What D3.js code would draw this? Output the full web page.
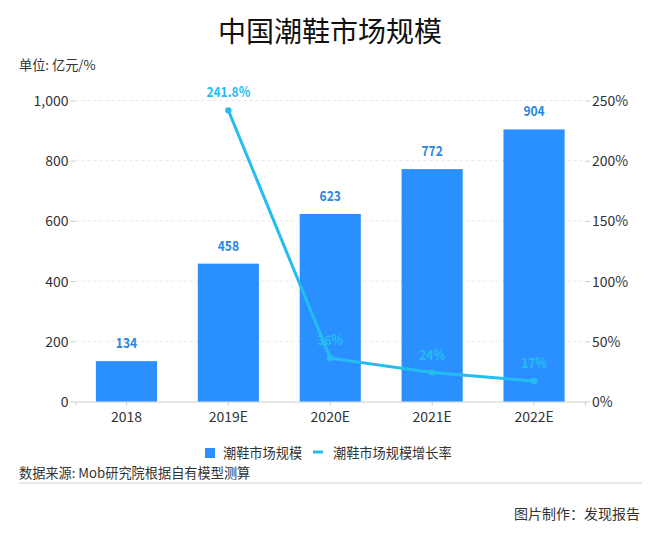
<!DOCTYPE html>
<html>
<head>
<meta charset="utf-8">
<script src="https://cdn.jsdelivr.net/npm/d3@7"></script>
<style>
  body { margin: 0; background: #fff; }
  svg { display: block; font-family: "Noto Sans CJK SC", "Noto Sans", sans-serif; }
</style>
</head>
<body>
<div id="chart"></div>
<script>
// Chart data
const years = ['2018', '2019E', '2020E', '2021E', '2022E'];
const marketSize = [134, 458, 623, 772, 904];
const growthYears = ['2019E', '2020E', '2021E', '2022E'];
const growthRate = [241.8, 36, 24, 17];
const growthLabels = ['241.8%', '36%', '24%', '17%'];
const leftTicks = [0, 200, 400, 600, 800, 1000];
const rightTicks = [0, 50, 100, 150, 200, 250];

const width = 660;
const height = 543;
const barColor = '#2a90ff';
const lineColor = '#25bdf0';
const textColor = '#333';

const svg = d3.select('#chart')
  .append('svg')
  .attr('width', width)
  .attr('height', height);

// Squeeze the value labels, the original uses a condensed face
function condense(selection) {
  selection
    .attr('textLength', function() { return this.getComputedTextLength() * 0.86; })
    .attr('lengthAdjust', 'spacingAndGlyphs');
}

// Scales
const x = d3.scaleBand().domain(years).range([75.5, 585]).paddingInner(0.4).paddingOuter(0.2);
const yLeft = d3.scaleLinear().domain([0, 1000]).range([401.5, 100.5]);
const yRight = d3.scaleLinear().domain([0, 250]).range([401.5, 100.5]);

// Title and notes
svg.append('text')
  .attr('x', 330).attr('y', 42)
  .attr('text-anchor', 'middle')
  .attr('font-size', 28)
  .attr('fill', '#111')
  .text('中国潮鞋市场规模');

svg.append('text')
  .attr('x', 19).attr('y', 70)
  .attr('font-size', 13.2)
  .attr('fill', textColor)
  .text('单位: 亿元/%');

// Gridlines
svg.append('g')
  .selectAll('line')
  .data(leftTicks.slice(1))
  .enter().append('line')
  .attr('x1', 75.5)
  .attr('x2', 585)
  .attr('y1', d => yLeft(d))
  .attr('y2', d => yLeft(d))
  .attr('stroke', '#e6e6e6')
  .attr('stroke-dasharray', '3,3');

// Axes
const leftAxis = svg.append('g')
  .attr('transform', 'translate(75.5,0)')
  .call(d3.axisLeft(yLeft).tickValues(leftTicks).tickFormat(d3.format(',')).tickSize(5).tickPadding(2));

const rightAxis = svg.append('g')
  .attr('transform', 'translate(585,0)')
  .call(d3.axisRight(yRight).tickValues(rightTicks).tickFormat(d => d + '%').tickSize(5).tickPadding(2));

const bottomAxis = svg.append('g')
  .attr('transform', 'translate(0,401.5)')
  .call(d3.axisBottom(x).tickSize(4).tickPadding(7));

[leftAxis, rightAxis].forEach(axis => {
  axis.select('.domain').remove();
  axis.selectAll('.tick line').attr('stroke', '#ccc');
  axis.selectAll('text').attr('dy', '0.36em');
});
bottomAxis.select('.domain').attr('stroke', '#ccc');
bottomAxis.selectAll('.tick line').attr('stroke', '#ccc');

[leftAxis, rightAxis, bottomAxis].forEach(axis => {
  axis.attr('font-family', null);
  axis.selectAll('text')
    .attr('font-size', 14)
    .attr('fill', textColor);
});

// Bars
svg.append('g')
  .selectAll('rect')
  .data(marketSize)
  .enter().append('rect')
  .attr('x', (d, i) => x(years[i]))
  .attr('y', d => yLeft(d))
  .attr('width', x.bandwidth())
  .attr('height', d => yLeft(0) - yLeft(d))
  .attr('fill', barColor);

// Bar labels
svg.append('g')
  .selectAll('text')
  .data(marketSize)
  .enter().append('text')
  .attr('x', (d, i) => x(years[i]) + x.bandwidth() / 2)
  .attr('y', d => yLeft(d) - 13)
  .attr('text-anchor', 'middle')
  .attr('font-size', 14)
  .attr('font-weight', 'bold')
  .attr('fill', '#2a86e0')
  .text(d => d)
  .call(condense);

// Growth line
const lineX = (d, i) => x(growthYears[i]) + x.bandwidth() / 2;
const line = d3.line().x(lineX).y(d => yRight(d));

svg.append('path')
  .datum(growthRate)
  .attr('d', line)
  .attr('fill', 'none')
  .attr('stroke', lineColor)
  .attr('stroke-width', 3);

svg.append('g')
  .selectAll('circle')
  .data(growthRate)
  .enter().append('circle')
  .attr('cx', lineX)
  .attr('cy', d => yRight(d))
  .attr('r', 3.2)
  .attr('fill', lineColor);

// Growth labels
svg.append('g')
  .selectAll('text')
  .data(growthRate)
  .enter().append('text')
  .attr('x', lineX)
  .attr('y', d => yRight(d) - 13)
  .attr('text-anchor', 'middle')
  .attr('font-size', 14)
  .attr('font-weight', 'bold')
  .attr('fill', lineColor)
  .text((d, i) => growthLabels[i])
  .call(condense);

// Legend
svg.append('rect')
  .attr('x', 205).attr('y', 448)
  .attr('width', 10).attr('height', 10)
  .attr('fill', barColor);

svg.append('text')
  .attr('x', 223).attr('y', 458)
  .attr('font-size', 13.2)
  .attr('fill', textColor)
  .text('潮鞋市场规模');

svg.append('line')
  .attr('x1', 313).attr('x2', 323)
  .attr('y1', 452).attr('y2', 452)
  .attr('stroke', lineColor)
  .attr('stroke-width', 3);

svg.append('text')
  .attr('x', 333).attr('y', 458)
  .attr('font-size', 13.2)
  .attr('fill', textColor)
  .text('潮鞋市场规模增长率');

// Footer
svg.append('text')
  .attr('x', 19).attr('y', 478)
  .attr('font-size', 13.2)
  .attr('fill', textColor)
  .text('数据来源: Mob研究院根据自有模型测算');

svg.append('line')
  .attr('x1', 19).attr('x2', 642)
  .attr('y1', 483).attr('y2', 483)
  .attr('stroke', '#e0e0e0')
  .attr('stroke-width', 1.5);

svg.append('text')
  .attr('x', 640).attr('y', 519)
  .attr('text-anchor', 'end')
  .attr('font-size', 14)
  .attr('fill', textColor)
  .text('图片制作：发现报告');
</script>
</body>
</html>
